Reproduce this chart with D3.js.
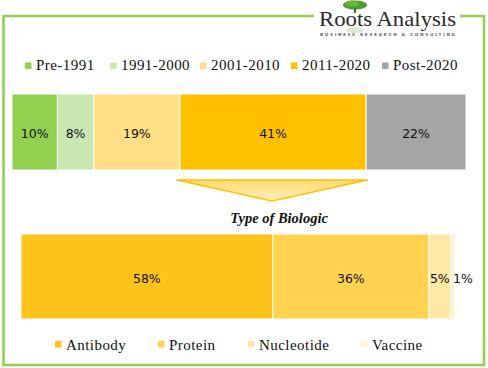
<!DOCTYPE html>
<html><head><meta charset="utf-8">
<script src="https://cdn.jsdelivr.net/npm/d3@7"></script>
<style>html,body{margin:0;padding:0;background:#fff;}svg{display:block;}</style>
</head><body>
<script>
const eraCategories = ["Pre-1991", "1991-2000", "2001-2010", "2011-2020", "Post-2020"];
const eraValues = [10, 8, 19, 41, 22];
const eraColors = ["#92D050", "#C9E7B1", "#FFDF86", "#FFC000", "#A5A5A5"];
const typeCategories = ["Antibody", "Protein", "Nucleotide", "Vaccine"];
const typeValues = [58, 36, 5, 1];
const typeColors = ["#FDC31B", "#FFD34F", "#FFE8A3", "#FFF3D2"];
const subtitle = "Type of Biologic";

const W = 488, H = 368;
const svg = d3.select("body").append("svg").attr("width", W).attr("height", H);

// frame
svg.append("path")
  .attr("d", "M314,16 H3.5 V365 H484 V16 H460")
  .attr("fill", "none").attr("stroke", "#92D050").attr("stroke-width", 2.6);

// logo
const logo = svg.append("g");
logo.append("ellipse").attr("cx", 355).attr("cy", 5).attr("rx", 12).attr("ry", 4.5).attr("fill", "#4E9A2E");
logo.append("ellipse").attr("cx", 352).attr("cy", 3.5).attr("rx", 7).attr("ry", 3).attr("fill", "#6DB33F");
logo.append("rect").attr("x", 354).attr("y", 8).attr("width", 2).attr("height", 5).attr("fill", "#3E6B2A");
logo.append("ellipse").attr("cx", 355).attr("cy", 30).attr("rx", 9).attr("ry", 3).attr("fill", "#DCEBD3");
logo.append("text").attr("x", 319).attr("y", 26)
  .attr("font-family", "Liberation Serif").attr("font-size", 22)
  .attr("textLength", 137).attr("lengthAdjust", "spacingAndGlyphs")
  .attr("fill", "#2b2b2b").text("Roots Analysis");
logo.append("text").attr("x", 320).attr("y", 35.5)
  .attr("font-family", "DejaVu Sans").attr("font-size", 4.2).attr("font-weight", "bold")
  .attr("textLength", 135).attr("lengthAdjust", "spacing")
  .attr("fill", "#666").text("BUSINESS RESEARCH & CONSULTING");

// legend helper
function legend(cats, colors, xs, squareY, textY) {
  const g = svg.append("g");
  cats.forEach((c, i) => {
    g.append("rect").attr("x", xs[i]).attr("y", squareY).attr("width", 6.5).attr("height", 6.5).attr("fill", colors[i]);
    g.append("text").attr("x", xs[i] + 11).attr("y", textY)
      .attr("font-family", "Liberation Serif").attr("font-size", 15).attr("letter-spacing", 0.45)
      .attr("fill", "#111").text(c);
  });
}
legend(eraCategories, eraColors, [25, 110, 200, 291, 382], 62.5, 69.5);

// top bar
const x1 = d3.scaleLinear().domain([0, d3.sum(eraValues)]).range([12, 466]);
const eraStarts = d3.cumsum([0, ...eraValues]);
const topY = 94, topH = 76;
const g1 = svg.append("g");
eraValues.forEach((v, i) => {
  const a = x1(eraStarts[i]), b = x1(eraStarts[i + 1]);
  g1.append("rect").attr("x", a).attr("y", topY).attr("width", b - a).attr("height", topH)
    .attr("fill", eraColors[i]).attr("stroke", "#fff").attr("stroke-width", 1);
  g1.append("text").attr("x", (a + b) / 2).attr("y", topY + topH / 2 + 5.5)
    .attr("text-anchor", "middle").attr("font-family", "DejaVu Sans").attr("font-size", 12.5)
    .attr("fill", "#111").text(v + "%");
});

// arrow under 2011-2020
const ai = 3;
const ax0 = x1(eraStarts[ai]) - 3, ax1 = x1(eraStarts[ai + 1]) + 1;
const defs = svg.append("defs");
const grad = defs.append("linearGradient").attr("id", "ag").attr("x1", 0).attr("y1", 0).attr("x2", 0).attr("y2", 1);
grad.append("stop").attr("offset", "0%").attr("stop-color", "#FFDA6B");
grad.append("stop").attr("offset", "100%").attr("stop-color", "#FFF0C2");
svg.append("path")
  .attr("d", `M${ax0},180 L${ax1},180 L${(ax0 + ax1) / 2},201 Z`)
  .attr("fill", "url(#ag)").attr("stroke", "#FFC000").attr("stroke-width", 1.6).attr("stroke-linejoin", "round");

svg.append("text").attr("x", 279).attr("y", 223).attr("text-anchor", "middle")
  .attr("font-family", "Liberation Serif").attr("font-size", 14.5).attr("font-weight", "bold").attr("font-style", "italic")
  .attr("fill", "#111").text(subtitle);

// bottom bar
const x2 = d3.scaleLinear().domain([0, d3.sum(typeValues)]).range([21, 455]);
const typeStarts = d3.cumsum([0, ...typeValues]);
const botY = 234, botH = 85;
const g2 = svg.append("g");
typeValues.forEach((v, i) => {
  const a = x2(typeStarts[i]), b = x2(typeStarts[i + 1]);
  g2.append("rect").attr("x", a).attr("y", botY).attr("width", b - a).attr("height", botH)
    .attr("fill", typeColors[i]).attr("stroke", "#fff").attr("stroke-width", 1);
  const small = (b - a) < 12;
  g2.append("text").attr("x", small ? b + 8 : (a + b) / 2).attr("y", botY + botH / 2 + 6.5)
    .attr("text-anchor", "middle").attr("font-family", "DejaVu Sans").attr("font-size", 12.5)
    .attr("fill", "#111").text(v + "%");
});

legend(typeCategories, typeColors, [55, 158, 248, 361], 341, 350);
</script>
</body></html>
